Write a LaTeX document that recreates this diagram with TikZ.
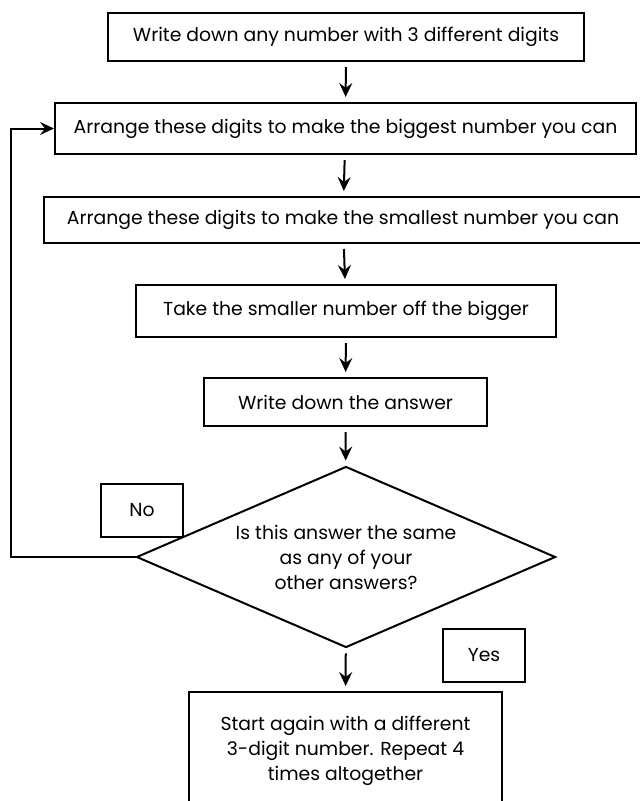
\documentclass[tikz,border=0pt]{standalone}
\usepackage{fontspec}
\setmainfont{Poppins}
\usetikzlibrary{shapes.geometric,arrows.meta}

\begin{document}
\begin{tikzpicture}[x=1pt,y=-1pt]
  % Styles
  \tikzstyle{stage}=[draw,line width=2pt,inner sep=0pt,align=center,
    font=\fontsize{18.8}{25}\selectfont]
  \tikzstyle{decision}=[stage,diamond,shape aspect=2.3]
  \tikzstyle{reply}=[stage,minimum width=82pt,minimum height=53pt]
  \tikzstyle{flow}=[line width=2pt,-{Stealth[length=14pt,width=13pt,inset=5pt]}]
  \tikzstyle{down}=[flow,shorten <=5pt,shorten >=5pt]

  \useasboundingbox (0,0) rectangle (640,801);

  % The boxes
  \node[stage,minimum width=476pt,minimum height=48pt] (write) at (346,37)
    {Write down any number with 3 different digits};
  \node[stage,minimum width=581pt,minimum height=51pt] (biggest) at (345.5,128.5)
    {Arrange these digits to make the biggest number you can};
  \node[stage,minimum width=598pt,minimum height=46pt] (smallest) at (343,220)
    {Arrange these digits to make the smallest number you can};
  \node[stage,minimum width=420pt,minimum height=52pt] (take) at (346,311)
    {Take the smaller number off the bigger};
  \node[stage,minimum width=283pt,minimum height=48pt] (answer) at (345.5,402)
    {Write down the answer};
  \node[decision,minimum width=419pt,minimum height=181pt] (same) at (346,557)
    {Is this answer the same\\as any of your\\other answers?};
  \node[stage,minimum width=313pt,minimum height=118pt] (again) at (345.5,751)
    {Start again with a different\\3-digit number. Repeat 4\\times altogether};

  \node[reply] (no) at (142,510.5) {No};
  \node[reply] (yes) at (484,655.5) {Yes};

  % The arrows
  \draw[down] (write) -- (biggest);
  \draw[down] (biggest) -- (smallest);
  \draw[down] (smallest) -- (take);
  \draw[down] (take) -- (answer);
  \draw[down] (answer) -- (same);
  \draw[down] (same) -- (again);

  \draw[flow] (same.west) -- ++(-125,0) |- (biggest.west);
\end{tikzpicture}
\end{document}
